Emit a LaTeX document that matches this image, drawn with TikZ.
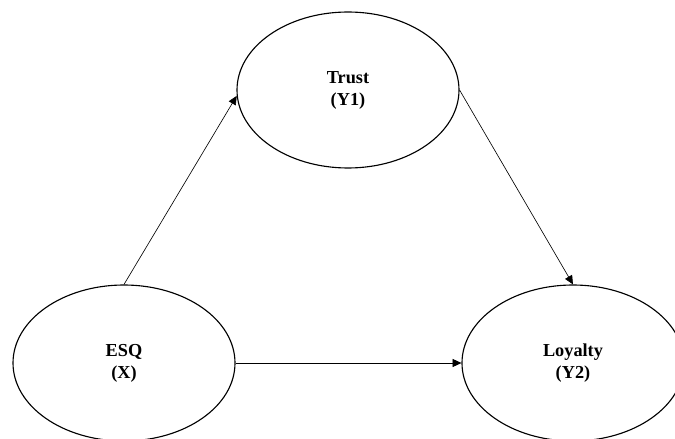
\documentclass[tikz,border=0pt]{standalone}
\usepackage{fontspec}
\setmainfont{Liberation Serif}
\usetikzlibrary{positioning,arrows.meta,shapes.geometric}
\tikzset{
  >={Triangle[length=2.2mm,width=2mm]},
  latent/.style={ellipse,draw=black,line width=0.8pt,minimum width=5.55cm,
    minimum height=3.9cm,inner sep=1pt,align=center,
    font=\fontsize{13}{15.6}\selectfont\bfseries},
  path/.style={->,line width=0.45pt},
}
\begin{document}
\begin{tikzpicture}
  \useasboundingbox (0,0) rectangle (16.875,-10.975);
  \node[latent] (trust) at (8.7,-2.25) {Trust\\(Y1)};
  \node[latent] (esq) at (3.1,-9.075) {ESQ\\(X)};
  \node[latent] (loyal) at (14.325,-9.075) {Loyalty\\(Y2)};
  \path[path]
    (esq.north) edge (trust.183)
    (trust.east) edge (loyal.north)
    (esq.east) edge (loyal.west);
\end{tikzpicture}
\end{document}
